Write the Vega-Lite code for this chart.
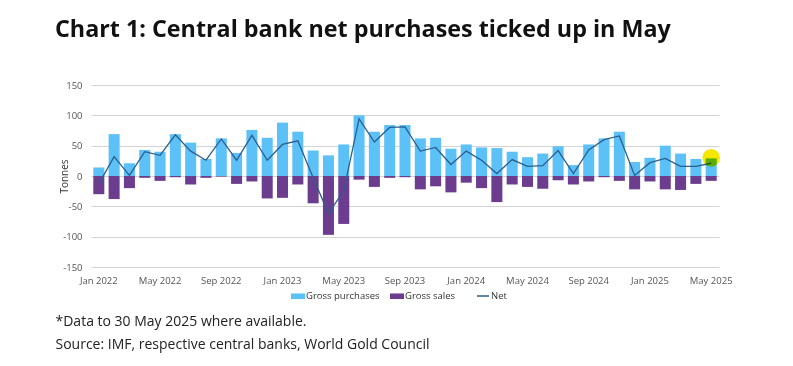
{
  "$schema": "https://vega.github.io/schema/vega-lite/v6.json",
  "width": 628,
  "height": 182,
  "autosize": "none",
  "padding": {"left": 91, "top": 85, "right": 74, "bottom": 99},
  "background": "white",
  "config": {
    "font": "Open Sans",
    "view": {"stroke": null},
    "axis": {"labelFont": "Open Sans", "titleFont": "Open Sans"}
  },
  "title": {
    "text": "Chart 1: Central bank net purchases ticked up in May",
    "anchor": "start",
    "frame": "group",
    "dx": -36,
    "offset": 38,
    "fontSize": 23.3,
    "fontWeight": "bold",
    "font": "Open Sans",
    "color": "#111111"
  },
  "data": {
    "values": [
      {"month": "Jan 2022", "purchases": 14, "sales": -30, "net": -13},
      {"month": "Feb 2022", "purchases": 69, "sales": -38, "net": 32},
      {"month": "Mar 2022", "purchases": 21, "sales": -20, "net": 1},
      {"month": "Apr 2022", "purchases": 43, "sales": -3, "net": 40},
      {"month": "May 2022", "purchases": 40, "sales": -8, "net": 34},
      {"month": "Jun 2022", "purchases": 69, "sales": -2, "net": 68},
      {"month": "Jul 2022", "purchases": 55, "sales": -14, "net": 41},
      {"month": "Aug 2022", "purchases": 28, "sales": -3, "net": 26},
      {"month": "Sep 2022", "purchases": 62, "sales": -1, "net": 61},
      {"month": "Oct 2022", "purchases": 38, "sales": -13, "net": 26},
      {"month": "Nov 2022", "purchases": 76, "sales": -9, "net": 67},
      {"month": "Dec 2022", "purchases": 63, "sales": -37, "net": 26},
      {"month": "Jan 2023", "purchases": 88, "sales": -36, "net": 52},
      {"month": "Feb 2023", "purchases": 73, "sales": -14, "net": 58},
      {"month": "Mar 2023", "purchases": 42, "sales": -45, "net": -3},
      {"month": "Apr 2023", "purchases": 34, "sales": -97, "net": -62},
      {"month": "May 2023", "purchases": 52, "sales": -79, "net": -24},
      {"month": "Jun 2023", "purchases": 100, "sales": -6, "net": 94},
      {"month": "Jul 2023", "purchases": 73, "sales": -18, "net": 56},
      {"month": "Aug 2023", "purchases": 84, "sales": -3, "net": 80},
      {"month": "Sep 2023", "purchases": 84, "sales": -2, "net": 81},
      {"month": "Oct 2023", "purchases": 62, "sales": -22, "net": 41},
      {"month": "Nov 2023", "purchases": 63, "sales": -17, "net": 47},
      {"month": "Dec 2023", "purchases": 45, "sales": -27, "net": 19},
      {"month": "Jan 2024", "purchases": 52, "sales": -11, "net": 41},
      {"month": "Feb 2024", "purchases": 47, "sales": -20, "net": 26},
      {"month": "Mar 2024", "purchases": 46, "sales": -43, "net": 4},
      {"month": "Apr 2024", "purchases": 40, "sales": -14, "net": 27},
      {"month": "May 2024", "purchases": 31, "sales": -18, "net": 16},
      {"month": "Jun 2024", "purchases": 37, "sales": -21, "net": 17},
      {"month": "Jul 2024", "purchases": 49, "sales": -7, "net": 42},
      {"month": "Aug 2024", "purchases": 18, "sales": -14, "net": 4},
      {"month": "Sep 2024", "purchases": 52, "sales": -9, "net": 43},
      {"month": "Oct 2024", "purchases": 62, "sales": -2, "net": 60},
      {"month": "Nov 2024", "purchases": 73, "sales": -8, "net": 66},
      {"month": "Dec 2024", "purchases": 23, "sales": -22, "net": 1},
      {"month": "Jan 2025", "purchases": 30, "sales": -9, "net": 22},
      {"month": "Feb 2025", "purchases": 50, "sales": -22, "net": 29},
      {"month": "Mar 2025", "purchases": 37, "sales": -23, "net": 16},
      {"month": "Apr 2025", "purchases": 28, "sales": -13, "net": 16},
      {"month": "May 2025", "purchases": 29, "sales": -8, "net": 21}
    ]
  },
  "encoding": {
    "x": {
      "field": "month",
      "type": "ordinal",
      "sort": null,
      "scale": {"paddingInner": 0.28, "paddingOuter": 0.15},
      "axis": {
        "values": ["Jan 2022", "May 2022", "Sep 2022", "Jan 2023", "May 2023", "Sep 2023", "Jan 2024", "May 2024", "Sep 2024", "Jan 2025", "May 2025"],
        "labelAngle": 0,
        "ticks": false,
        "domain": false,
        "grid": false,
        "labelPadding": 8,
        "labelFontSize": 9.5,
        "labelColor": "#555555",
        "title": ["*Data to 30 May 2025 where available.", "Source: IMF, respective central banks, World Gold Council"],
        "titleAnchor": "start",
        "titleAlign": "left",
        "titleBaseline": "alphabetic",
        "titleX": -36,
        "titleY": 58.3,
        "titleFontSize": 14,
        "titleFontWeight": "normal",
        "titleColor": "#222222",
        "titleLineHeight": 23.5
      }
    }
  },
  "layer": [
    {
      "mark": {"type": "bar"},
      "encoding": {
        "y": {
          "field": "purchases",
          "type": "quantitative",
          "scale": {"domain": [-150, 150], "nice": false, "zero": false},
          "axis": {
            "values": [-150, -100, -50, 0, 50, 100, 150],
            "tickCount": 10,
            "labelOverlap": false,
            "labelExpr": "datum.value + ''",
            "domain": false,
            "ticks": false,
            "grid": true,
            "gridColor": "#d4d4d4",
            "gridWidth": 1.2,
            "labelPadding": 9,
            "labelFontSize": 9.5,
            "labelColor": "#555555",
            "title": "Tonnes",
            "titleFontSize": 10,
            "titleFontWeight": "normal",
            "titleColor": "#333333",
            "titleX": -27,
            "titleY": 91,
            "titleBaseline": "middle",
            "titleAlign": "center",
            "titleAngle": -90
          }
        },
        "color": {
          "datum": "Gross purchases",
          "scale": {"domain": ["Gross purchases", "Gross sales"], "range": ["#5CC1F7", "#6C3D8E"]},
          "legend": {
            "orient": "none",
            "legendX": 200,
            "legendY": 204,
            "direction": "horizontal",
            "title": null,
            "symbolType": "M-1,-0.4H1V0.4H-1Z",
            "symbolSize": 196,
            "symbolStrokeWidth": 0,
            "labelFontSize": 9.5,
            "labelColor": "#333333",
            "labelOffset": 1,
            "columnPadding": 10
          }
        }
      }
    },
    {
      "mark": {"type": "bar"},
      "encoding": {
        "y": {"field": "sales", "type": "quantitative"},
        "color": {"datum": "Gross sales"}
      }
    },
    {
      "mark": {"type": "line", "strokeWidth": 1.3},
      "encoding": {
        "y": {"field": "net", "type": "quantitative"},
        "stroke": {
          "datum": "Net",
          "scale": {"domain": ["Net"], "range": ["#2B5E8E"]},
          "legend": {
            "orient": "none",
            "legendX": 385,
            "legendY": 204,
            "title": null,
            "symbolType": "stroke",
            "symbolSize": 144,
            "symbolStrokeWidth": 1.5,
            "labelFontSize": 9.5,
            "labelColor": "#333333",
            "labelOffset": 1
          }
        }
      }
    },
    {
      "transform": [{"filter": "datum.month === 'May 2025'"}],
      "mark": {"type": "circle", "size": 310, "opacity": 1, "blend": "multiply", "color": "#F7E600"},
      "encoding": {
        "y": {"datum": 30, "type": "quantitative"}
      }
    }
  ]
}
